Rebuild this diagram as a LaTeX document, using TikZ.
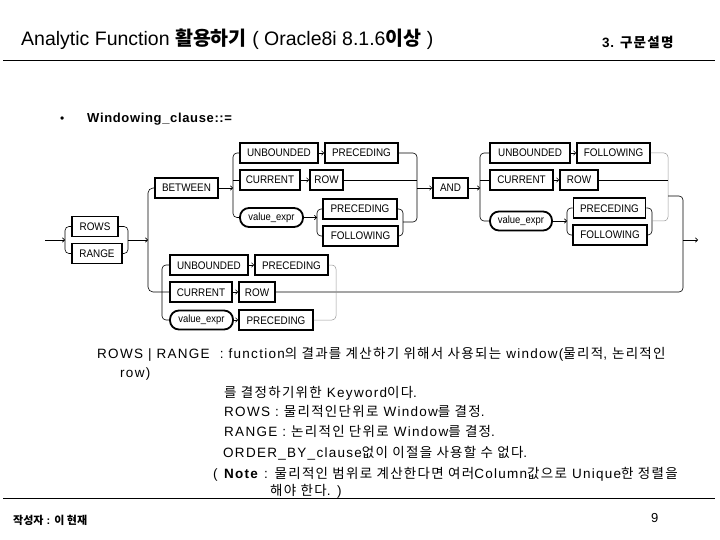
\documentclass[tikz,border=0pt]{standalone}
\usepackage{fontspec}
\setmainfont{Liberation Sans}
\newfontfamily\krf{Noto Sans CJK KR}
\newfontfamily\krfs[LetterSpace=9.5]{Noto Sans CJK KR}
\newfontfamily\bodyla[LetterSpace=9.5]{Liberation Sans}
\newfontfamily\boxf[FakeStretch=0.9]{Liberation Sans}
\newfontfamily\widela[LetterSpace=5]{Liberation Sans}
\usetikzlibrary{arrows.meta}
\newcommand\hk[1]{{\krf #1}}
\newcommand\hks[1]{{\krfs #1}}
\begin{document}
\begin{tikzpicture}[x=1pt,y=-1pt,
  box/.style={draw, line width=1.8pt, minimum height=20pt, inner sep=0pt,
    font=\boxf\fontsize{11}{11}\selectfont, text height=8pt, text depth=0pt},
  vexp/.style={box, rounded corners=9pt, minimum height=19pt, text height=7pt, text depth=1.5pt, font=\boxf\fontsize{10.5}{10}\selectfont},
  rail/.style={line width=0.6pt},
  faint/.style={line width=0.5pt, black!40},
  arr/.style={rail, -{Straight Barb[length=2.2pt,width=4.5pt]}},
  body/.style={anchor=base west, inner sep=0pt, font=\bodyla\fontsize{13.5}{14}\selectfont},
  rc/.style={rounded corners=4pt}]
\fill[white] (0,0) rectangle (720,540);
\useasboundingbox (0,0) rectangle (720,540);

% header
\node[anchor=base west, inner sep=0pt, font=\fontsize{19.5}{20}\selectfont] (title) at (21,46)
  {Analytic Function \hk{\bfseries 활용하기} ( Oracle8i 8.1.6\hk{\bfseries 이상} )};
\node[anchor=base west, inner sep=0pt, font=\widela\fontsize{13.5}{14}\selectfont\bfseries] (sec) at (602,48) {3. \hks{\bfseries 구문설명}};
\coordinate (tl) at (3,61); \coordinate (tr) at (715,61);
\draw[line width=1pt] (tl) -- (tr);

\node[anchor=base west, inner sep=0pt, font=\fontsize{12}{12}\selectfont] (bul) at (60,123) {\textbullet};
\node[anchor=base west, inner sep=0pt, font=\widela\fontsize{13}{13}\selectfont\bfseries] (wc) at (87,123) {Windowing\_clause::=};

% boxes
\node[box, minimum width=46pt] (rows) at (95,226.5) {ROWS};
\node[box, minimum width=50pt] (range) at (97,253.5) {RANGE};
\node[box, minimum width=63pt] (btw) at (186.5,188) {BETWEEN};
\node[box, minimum width=78pt] (ub1) at (279,153) {UNBOUNDED};
\node[box, minimum width=73pt] (pr1) at (361.5,153) {PRECEDING};
\node[box, minimum width=60pt] (cu1) at (270,180) {CURRENT};
\node[box, minimum width=33pt] (rw1) at (326.5,180) {ROW};
\node[vexp, minimum width=63pt] (ve1) at (271.5,217.5) {value\_expr};
\node[box, minimum width=74pt] (pr2) at (360,209) {PRECEDING};
\node[box, minimum width=75pt] (fo2) at (360.5,236) {FOLLOWING};
\node[box, minimum width=35pt] (and) at (450.5,188) {AND};
\node[box, minimum width=80pt] (ub3) at (530,153) {UNBOUNDED};
\node[box, minimum width=73pt] (fo3) at (613.5,153) {FOLLOWING};
\node[box, minimum width=63pt] (cu3) at (521.5,180) {CURRENT};
\node[box, minimum width=38pt] (rw3) at (579,180) {ROW};
\node[vexp, minimum width=62pt] (ve3) at (521,221) {value\_expr};
\node[box, minimum width=72pt] (pr4) at (609.5,208) {PRECEDING};
\node[box, minimum width=74pt] (fo4) at (610,235) {FOLLOWING};
\node[box, minimum width=78pt] (ub5) at (209,265) {UNBOUNDED};
\node[box, minimum width=73pt] (pr5) at (291.5,265) {PRECEDING};
\node[box, minimum width=62pt] (cu5) at (201,292) {CURRENT};
\node[box, minimum width=36pt] (rw5) at (257,292) {ROW};
\node[vexp, minimum width=63pt] (ve5) at (201.5,320) {value\_expr};
\node[box, minimum width=74pt] (pr6) at (276,320) {PRECEDING};

% entry
\coordinate (in) at (45,240);
\coordinate (lb) at (65,240);
\draw[arr] (in) -- (lb);
\draw[rail,rc] (rows.west) -- (65,226.5) -- (65,253.5) -- (range.west);
\draw[rail,rc] (rows.east) -- (128,226.5) -- (128,253.5) -- (range.east);
\coordinate (rb) at (128,240);
\coordinate (m1) at (148,240);
\draw[arr] (rb) -- (m1);
% main rail
\draw[rail,rounded corners=5pt] (btw.west) -- (148,188) -- (148,292) -- (cu5.west);
% between group
\coordinate (r2) at (233,188);
\draw[arr] (btw.east) -- (r2);
\draw[rail,rc] (ub1.west) -- (233,153) -- (233,217.5) -- (ve1.west);
\draw[rail] (233,180) -- (cu1.west);
\draw[arr] (ub1) -- (pr1);
\draw[arr] (cu1) -- (rw1);
\draw[arr] (ve1.east) -- (317,217.5);
\draw[rail,rc] (pr2.west) -- (317,209) -- (317,236) -- (fo2.west);
\draw[rail,rc] (pr2.east) -- (403,209) -- (403,236) -- (fo2.east);
\draw[rail,rc] (pr1.east) -- (417,153) -- (417,222) -- (403,222);
\draw[rail] (rw1.east) -- (417,180);
\coordinate (a1) at (417,188);
\draw[arr] (a1) -- (and);
% and group
\coordinate (r3) at (480,188);
\draw[arr] (and.east) -- (r3);
\draw[rail,rc] (ub3.west) -- (480,153) -- (480,221) -- (ve3.west);
\draw[rail] (480,180) -- (cu3.west);
\draw[arr] (ub3) -- (fo3);
\draw[arr] (cu3) -- (rw3);
\draw[arr] (ve3.east) -- (567,221);
\draw[rail,rc] (pr4.west) -- (567,208) -- (567,235) -- (fo4.west);
\draw[rail,rc] (pr4.east) -- (652,208) -- (652,235) -- (fo4.east);
\draw[faint,rc] (fo3.east) -- (668,153) -- (668,221) -- (652,221);
\draw[rail] (rw3.east) -- (668,180);
% exit rail
\draw[rail,rc] (668,196) -- (683,196) -- (683,292) -- (rw5.east);
\coordinate (ex0) at (683,240);
\coordinate (ex) at (698,240);
\draw[arr] (ex0) -- (ex);
% bottom group
\draw[rail,rc] (ub5.west) -- (162,265) -- (162,320) -- (ve5.west);
\draw[arr] (ub5) -- (pr5);
\draw[arr] (cu5) -- (rw5);
\draw[arr] (ve5) -- (pr6);
\draw[faint,rc] (pr5.east) -- (336,265) -- (336,320) -- (pr6.east);

% explanation text
\node[body] (t1) at (97,358) {ROWS | RANGE \ : function\hks{의 결과를 계산하기 위해서 사용되는} window(\hks{물리적}, \hks{논리적인}};
\node[body] (t2) at (120,377) {row)};
\node[body] (t3) at (224,397) {\hks{를 결정하기위한} Keyword\hks{이다}.};
\node[body] (t4) at (224,416) {ROWS : \hks{물리적인단위로} Window\hks{를 결정}.};
\node[body] (t5) at (224,436) {RANGE : \hks{논리적인 단위로} Window\hks{를 결정}.};
\node[body] (t6) at (223,457) {ORDER\_BY\_clause\hks{없이 이절을 사용할 수 없다}.};
\node[body] (t7) at (213,478) {( \textbf{Note} : \hks{물리적인 범위로 계산한다면 여러}Column\hks{값으로} Unique\hks{한 정렬을}};
\node[body] (t8) at (270,495) {\hks{해야 한다}. )};

% footer
\coordinate (bl) at (3,498); \coordinate (br) at (715,498);
\draw[line width=1pt] (bl) -- (br);
\node[anchor=base west, inner sep=0pt, font=\fontsize{11}{11}\selectfont\bfseries] (auth) at (13,524) {\hk{작성자} : \hk{이 현재}};
\node[anchor=base west, inner sep=0pt, font=\fontsize{13}{13}\selectfont] (pg) at (651,522) {9};
\end{tikzpicture}
\end{document}
